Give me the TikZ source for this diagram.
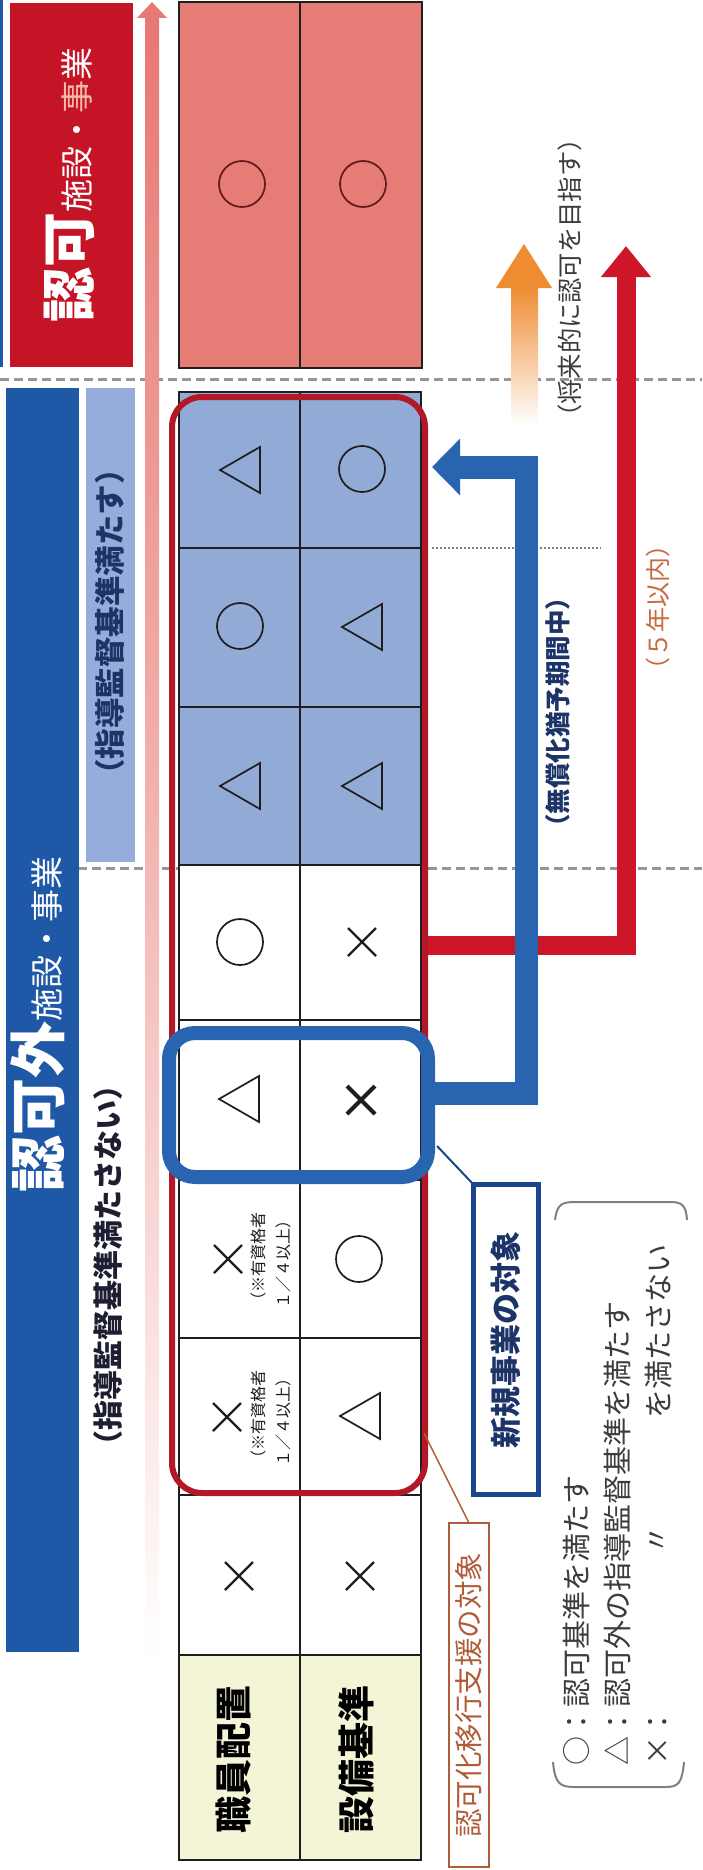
\documentclass[tikz,border=0pt]{standalone}
\usepackage{fontspec}
\setmainfont{Noto Sans CJK JP}
\usetikzlibrary{arrows.meta,calc}
\definecolor{barred}{RGB}{196,20,38}
\definecolor{cellred}{RGB}{229,124,118}
\definecolor{barblue}{RGB}{30,88,166}
\definecolor{lightblue}{RGB}{150,172,218}
\definecolor{cellblue}{RGB}{146,170,214}
\definecolor{arrblue}{RGB}{40,100,175}
\definecolor{lblblue}{RGB}{25,70,140}
\definecolor{arrred}{RGB}{205,22,40}
\definecolor{boxred}{RGB}{178,24,38}
\definecolor{headyel}{RGB}{244,245,214}
\definecolor{navy}{RGB}{28,52,104}
\definecolor{darktxt}{RGB}{30,30,50}
\definecolor{brownc}{RGB}{176,92,56}
\definecolor{yearc}{RGB}{200,105,65}
\definecolor{pinkarr}{RGB}{232,120,115}
\definecolor{orangearr}{RGB}{238,140,50}
\definecolor{dashgray}{RGB}{150,150,150}
\definecolor{symc}{RGB}{30,30,30}
\definecolor{maroonc}{RGB}{95,25,25}
\definecolor{legc}{RGB}{60,60,60}
\definecolor{pinktxt}{RGB}{245,185,170}
\newcommand\setfs[1]{\fontsize{#1}{#1}\selectfont}
\tikzset{
  vtext/.style={rotate=90, inner sep=0pt, outer sep=0pt},
  gridline/.style={draw=black!88, line width=2pt},
  symline/.style={draw=symc, line width=1.7pt},
  pics/sO/.style={code={\draw[symline] (0,0) circle[radius=23];}},
  pics/sOm/.style={code={\draw[symline, draw=maroonc] (0,0) circle[radius=23];}},
  pics/sT/.style={code={\draw[symline, line join=miter] (-20,0) -- (20,-23) -- (20,23) -- cycle;}},
  pics/sX/.style={code={\draw[symline, line width=2.2pt] (-14,-14) -- (14,14) (-14,14) -- (14,-14);}},
  pics/sXb/.style={code={\draw[symline, line width=4.2pt] (-14,-14) -- (14,14) (-14,14) -- (14,-14);}},
  dashsep/.style={draw=dashgray, line width=3pt, dash pattern=on 9pt off 5pt},
  legend/.style={vtext, text=legc, font=\setfs{29}},
  note/.style={vtext, anchor=west, text=symc, font=\setfs{16}},
}
\begin{document}
\begin{tikzpicture}[x=1pt,y=-1pt]
\useasboundingbox (0,0) rectangle (702,1870);
\fill[white] (0,0) rectangle (702,1870);

% dashed separators
\draw[dashsep] (0,379) -- (702,379);
\draw[dashsep] (78,868) -- (702,868);
\draw[gray, line width=1.5pt, dash pattern=on 2pt off 2pt] (432,548) -- (601,548);

% side bars
\fill[barblue] (0,0) rectangle (3,367);
\fill[barred] (10,3) rectangle (133,367);
\fill[barblue] (6,388) rectangle (79,1652);
\fill[lightblue] (86,388) rectangle (135,862);

% pink vertical arrow
\shade[top color=pinkarr, bottom color=white, middle color=pinkarr!55] (145,16) rectangle (159,1660);
\fill[pinkarr] (152,2) -- (137,18) -- (167,18) -- cycle;

% orange arrow
\shade[top color=orangearr, bottom color=white] (511,286) rectangle (538,425);
\fill[orangearr] (524,244) -- (496,288) -- (552,288) -- cycle;

% table
\fill[cellred] (179,2) rectangle (422,368);
\draw[gridline] (179,2) rectangle (422,368);
\draw[gridline] (300,2) -- (300,368);
\fill[cellblue] (179,392) rectangle (421,865);
\fill[white] (179,865) rectangle (421,1655);
\fill[headyel] (179,1655) rectangle (421,1860);
\draw[gridline] (179,392) rectangle (421,1860);
\draw[gridline] (300,392) -- (300,1860);
\foreach \yy in {548,707,865,1020,1180,1338,1495,1655}
  \draw[gridline] (179,\yy) -- (421,\yy);

% red rounded box (認可化移行支援の対象)
\node[draw=boxred, line width=6pt, rounded corners=30pt, minimum width=253pt, minimum height=1096pt, inner sep=0pt] (redbox) at (298.5,945) {};
% blue rounded box (新規事業の対象)
\node[draw=arrblue, line width=14pt, rounded corners=26pt, minimum width=259pt, minimum height=144pt, inner sep=0pt] (newbox) at (298.5,1105) {};

% connectors
\coordinate (redtip) at (626,246);
\coordinate (bluetip) at (432,467);
\draw[arrred, line width=19pt, -{Triangle[length=31pt,width=48pt]}] (redbox.east) -| (redtip);
\draw[arrblue, line width=23pt, line join=miter, -{Triangle[length=28pt,width=55pt]}]
  ($(newbox.east)+(0,-12)$) -- (526,1093) -- (526,467) -- (bluetip);

% label boxes
\node[vtext, draw=lblblue, line width=5pt, fill=white, minimum width=310pt, minimum height=65pt, text=navy, font=\setfs{31}\bfseries] (newlabel) at (506,1339.5) {新規事業の対象};
\node[vtext, draw=brownc, line width=2pt, fill=white, minimum width=344pt, minimum height=40pt, text=brownc, font=\setfs{28.5}] (brownlabel) at (469,1695) {認可化移行支援の対象};
\coordinate (nb1) at (437,1146);
\coordinate (rb1) at (424,1433);
\draw[lblblue, line width=2pt] (nb1) -- (newlabel.north east);
\draw[brownc, line width=1.5pt] (rb1) -- (brownlabel.east);

% symbols
\pic at (242,184) {sOm};
\pic at (363,184) {sOm};
\pic at (240,470) {sT};  \pic at (362,469) {sO};
\pic at (240,626) {sO};  \pic at (362,627) {sT};
\pic at (240,786) {sT};  \pic at (362,786) {sT};
\pic at (240,942) {sO};  \pic at (362,942) {sX};
\pic at (239,1099) {sT}; \pic at (361,1100) {sXb};
\pic at (228,1259) {sX}; \pic at (359,1259) {sO};
\pic at (227,1417) {sX}; \pic at (360,1416) {sT};
\pic at (239,1576) {sX}; \pic at (360,1576) {sX};

% notes
\node[note] (n1a) at (258,1308) {（※有資格者};
\node[note] (n1b) at (283,1308) {１／４以上）};
\node[note] (n2a) at (258,1466) {（※有資格者};
\node[note] (n2b) at (283,1466) {１／４以上）};

% header
\node[vtext, font=\setfs{37}\bfseries] (h1) at (233,1759) {職員配置};
\node[vtext, font=\setfs{37}\bfseries] (h2) at (356,1759) {設備基準};

% titles
\node[vtext, anchor=base west, text=white] (redtitle) at (89,322)
  {\setfs{55}\bfseries 認可\setfs{33}\mdseries 施設・{\color{pinktxt}事}業};
\node[vtext, anchor=base west, text=white] (bluetitle) at (59,1192)
  {\setfs{57}\bfseries 認可外\setfs{33}\mdseries 施設・事業};
\node[vtext, text=navy, font=\setfs{30.5}\bfseries] (meet) at (110,622) {（指導監督基準満たす）};
\node[vtext, text=darktxt, font=\setfs{30}\bfseries] (notmeet) at (108,1265) {（指導監督基準満たさない）};

% arrow labels
\node[vtext, text=legc, font=\setfs{25.3}] (future) at (570,278) {（将来的に認可を目指す）};
\node[vtext, text=navy, font=\setfs{25.5}\bfseries] (grace) at (558,712) {（無償化猶予期間中）};
\node[vtext, text=yearc, font=\setfs{25}] (years) at (658,607) {（５年以内）};

% legend
\draw[gray, line width=2pt] (555,1220) .. controls (557,1204) and (562,1202) .. (575,1202) -- (670,1202) .. controls (682,1202) and (686,1205) .. (687,1220);
\draw[gray, line width=2pt] (553,1762) .. controls (555,1784) and (560,1787) .. (575,1787) -- (665,1787) .. controls (678,1787) and (682,1784) .. (684,1762);
\node[legend, anchor=west] (lg1) at (576,1765) {○：認可基準を満たす};
\node[legend, anchor=west] (lg2) at (617,1765) {△：認可外の指導監督基準を満たす};
\node[legend, anchor=west] (lg3) at (658,1765) {×：};
\node[legend] (lg3b) at (658,1540) {〃};
\node[legend, anchor=west] (lg3c) at (658,1418) {を満たさない};
\end{tikzpicture}
\end{document}
